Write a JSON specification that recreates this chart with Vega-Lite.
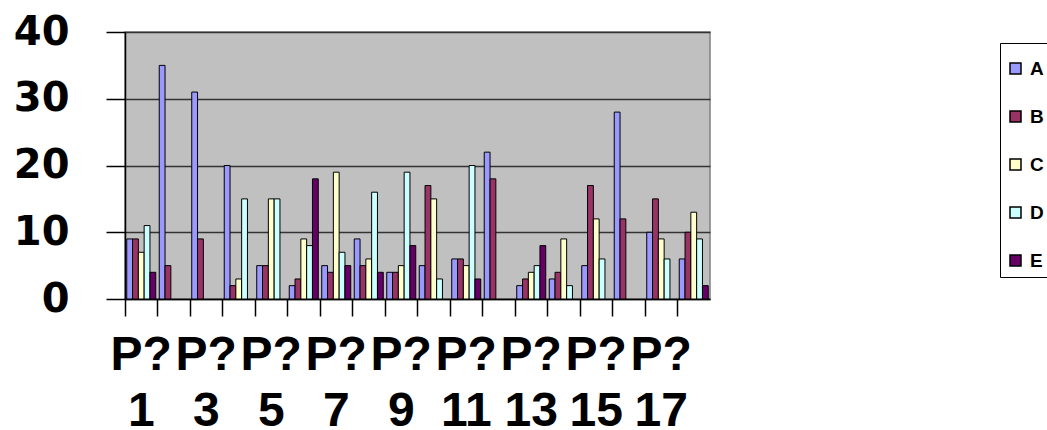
{
  "$schema": "https://vega.github.io/schema/vega-lite/v6.json",
  "autosize": {"type": "none"},
  "width": 585,
  "height": 267,
  "padding": {"left": 125, "top": 32, "right": 337, "bottom": 131},
  "background": "white",
  "view": {"fill": "#C0C0C0", "stroke": "#808080", "strokeWidth": 1.5},
  "data": {
    "values": [
      {"cat": "P?1", "series": "A", "value": 9}, {"cat": "P?1", "series": "B", "value": 9}, {"cat": "P?1", "series": "C", "value": 7}, {"cat": "P?1", "series": "D", "value": 11}, {"cat": "P?1", "series": "E", "value": 4},
      {"cat": "P?2", "series": "A", "value": 35}, {"cat": "P?2", "series": "B", "value": 5},
      {"cat": "P?3", "series": "A", "value": 31}, {"cat": "P?3", "series": "B", "value": 9},
      {"cat": "P?4", "series": "A", "value": 20}, {"cat": "P?4", "series": "B", "value": 2}, {"cat": "P?4", "series": "C", "value": 3}, {"cat": "P?4", "series": "D", "value": 15},
      {"cat": "P?5", "series": "A", "value": 5}, {"cat": "P?5", "series": "B", "value": 5}, {"cat": "P?5", "series": "C", "value": 15}, {"cat": "P?5", "series": "D", "value": 15},
      {"cat": "P?6", "series": "A", "value": 2}, {"cat": "P?6", "series": "B", "value": 3}, {"cat": "P?6", "series": "C", "value": 9}, {"cat": "P?6", "series": "D", "value": 8}, {"cat": "P?6", "series": "E", "value": 18},
      {"cat": "P?7", "series": "A", "value": 5}, {"cat": "P?7", "series": "B", "value": 4}, {"cat": "P?7", "series": "C", "value": 19}, {"cat": "P?7", "series": "D", "value": 7}, {"cat": "P?7", "series": "E", "value": 5},
      {"cat": "P?8", "series": "A", "value": 9}, {"cat": "P?8", "series": "B", "value": 5}, {"cat": "P?8", "series": "C", "value": 6}, {"cat": "P?8", "series": "D", "value": 16}, {"cat": "P?8", "series": "E", "value": 4},
      {"cat": "P?9", "series": "A", "value": 4}, {"cat": "P?9", "series": "B", "value": 4}, {"cat": "P?9", "series": "C", "value": 5}, {"cat": "P?9", "series": "D", "value": 19}, {"cat": "P?9", "series": "E", "value": 8},
      {"cat": "P?10", "series": "A", "value": 5}, {"cat": "P?10", "series": "B", "value": 17}, {"cat": "P?10", "series": "C", "value": 15}, {"cat": "P?10", "series": "D", "value": 3},
      {"cat": "P?11", "series": "A", "value": 6}, {"cat": "P?11", "series": "B", "value": 6}, {"cat": "P?11", "series": "C", "value": 5}, {"cat": "P?11", "series": "D", "value": 20}, {"cat": "P?11", "series": "E", "value": 3},
      {"cat": "P?12", "series": "A", "value": 22}, {"cat": "P?12", "series": "B", "value": 18},
      {"cat": "P?13", "series": "A", "value": 2}, {"cat": "P?13", "series": "B", "value": 3}, {"cat": "P?13", "series": "C", "value": 4}, {"cat": "P?13", "series": "D", "value": 5}, {"cat": "P?13", "series": "E", "value": 8},
      {"cat": "P?14", "series": "A", "value": 3}, {"cat": "P?14", "series": "B", "value": 4}, {"cat": "P?14", "series": "C", "value": 9}, {"cat": "P?14", "series": "D", "value": 2},
      {"cat": "P?15", "series": "A", "value": 5}, {"cat": "P?15", "series": "B", "value": 17}, {"cat": "P?15", "series": "C", "value": 12}, {"cat": "P?15", "series": "D", "value": 6},
      {"cat": "P?16", "series": "A", "value": 28}, {"cat": "P?16", "series": "B", "value": 12},
      {"cat": "P?17", "series": "A", "value": 10}, {"cat": "P?17", "series": "B", "value": 15}, {"cat": "P?17", "series": "C", "value": 9}, {"cat": "P?17", "series": "D", "value": 6},
      {"cat": "P?18", "series": "A", "value": 6}, {"cat": "P?18", "series": "B", "value": 10}, {"cat": "P?18", "series": "C", "value": 13}, {"cat": "P?18", "series": "D", "value": 9}, {"cat": "P?18", "series": "E", "value": 2}
    ]
  },
  "mark": {"type": "bar", "stroke": "black", "strokeWidth": 1},
  "encoding": {
    "x": {
      "field": "cat",
      "type": "nominal",
      "sort": ["P?1","P?2","P?3","P?4","P?5","P?6","P?7","P?8","P?9","P?10","P?11","P?12","P?13","P?14","P?15","P?16","P?17","P?18"],
      "scale": {"paddingInner": 0, "paddingOuter": 0},
      "axis": {
        "title": null,
        "bandPosition": 0,
        "domainColor": "black",
        "domainWidth": 1.5,
        "tickColor": "black",
        "tickWidth": 1.5,
        "tickSize": 17,
        "labelAngle": 0,
        "labelOverlap": false,
        "labelFont": "Liberation Sans, Arial, sans-serif",
        "labelFontWeight": "bold",
        "labelFontSize": 48,
        "labelColor": "black",
        "labelLineHeight": 56,
        "labelPadding": 15,
        "labelBaseline": "top",
        "labelExpr": "toNumber(slice(datum.value, 2)) % 2 == 1 ? ['P?', slice(datum.value, 2)] : ''"
      }
    },
    "xOffset": {
      "field": "series",
      "type": "nominal",
      "scale": {"domain": ["A","B","C","D","E"], "paddingInner": 0, "paddingOuter": 0.3}
    },
    "y": {
      "field": "value",
      "type": "quantitative",
      "scale": {"domain": [0, 40], "nice": false},
      "axis": {
        "title": null,
        "values": [0, 10, 20, 30, 40],
        "grid": true,
        "gridColor": "#333333",
        "gridWidth": 1.5,
        "domainColor": "black",
        "domainWidth": 1.5,
        "tickColor": "black",
        "tickWidth": 1.5,
        "tickSize": 19,
        "labelFont": "DejaVu Sans",
        "labelFontWeight": "bold",
        "labelFontSize": 40,
        "labelColor": "black",
        "labelPadding": 37
      }
    },
    "color": {
      "field": "series",
      "type": "nominal",
      "scale": {"domain": ["A","B","C","D","E"], "range": ["#9999FF", "#993366", "#FFFFCC", "#CCFFFF", "#660066"]},
      "legend": {
        "title": " ",
        "titleFontSize": 10,
        "titlePadding": 0,
        "orient": "none",
        "legendX": 875,
        "legendY": 11,
        "padding": 6,
        "strokeColor": "black",
        "fillColor": "white",
        "symbolType": "square",
        "symbolSize": 121,
        "symbolStrokeColor": "black",
        "symbolStrokeWidth": 1.5,
        "labelFont": "Liberation Sans, Arial, sans-serif",
        "labelFontWeight": "bold",
        "labelFontSize": 19,
        "labelColor": "black",
        "labelOffset": 5,
        "rowPadding": 28
      }
    }
  }
}
